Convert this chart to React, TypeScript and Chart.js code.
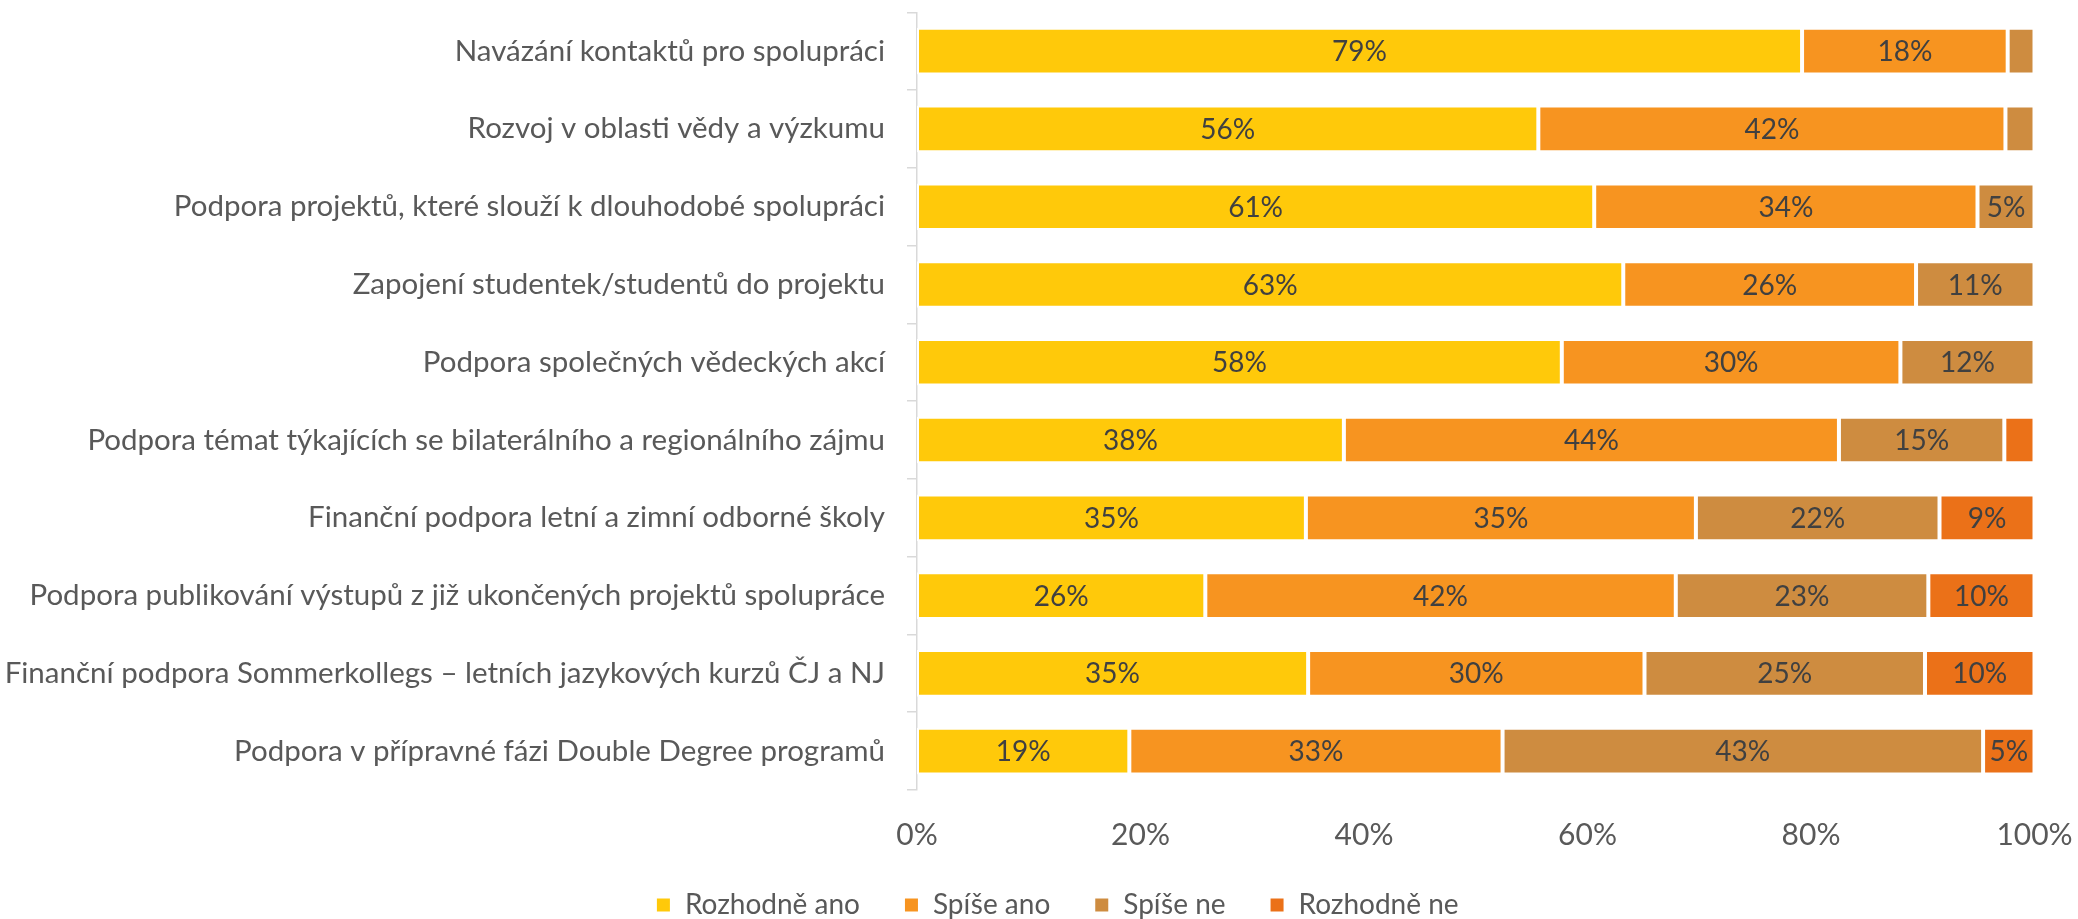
import React, { useEffect, useRef } from "react";
import { Chart, registerables } from "chart.js";

Chart.register(...registerables);

const categories = [
  "Navázání kontaktů pro spolupráci",
  "Rozvoj v oblasti vědy a výzkumu",
  "Podpora projektů, které slouží k dlouhodobé spolupráci",
  "Zapojení studentek/studentů do projektu",
  "Podpora společných vědeckých akcí",
  "Podpora témat týkajících se bilaterálního a regionálního zájmu",
  "Finanční podpora letní a zimní odborné školy",
  "Podpora publikování výstupů z již ukončených projektů spolupráce",
  "Finanční podpora Sommerkollegs – letních jazykových kurzů ČJ a NJ",
  "Podpora v přípravné fázi Double Degree programů",
];

const seriesNames = ["Rozhodně ano", "Spíše ano", "Spíše ne", "Rozhodně ne"];

const rozhodneAno = [79.2, 55.6, 60.6, 63.2, 57.7, 38.2, 34.8, 25.8, 35.0, 19.0];
const spiseAno = [18.4, 41.8, 34.3, 26.2, 30.3, 44.3, 34.9, 42.1, 30.1, 33.4];
const spiseNe = [2.4, 2.6, 5.1, 10.6, 12.0, 14.8, 21.8, 22.6, 25.1, 43.0];
const rozhodneNe = [0, 0, 0, 0, 0, 2.7, 8.5, 9.5, 9.8, 4.6];

const xTicks = [0, 20, 40, 60, 80, 100];

const colors = ["#FFC90A", "#F79420", "#CE8C40", "#EB7118"];

const FONT = "Lato, 'Open Sans', sans-serif";

const segLabels = {
  id: "segLabels",
  afterDatasetsDraw(chart: any) {
    const ctx = chart.ctx;
    ctx.save();
    ctx.font = `28px ${FONT}`;
    ctx.fillStyle = "#404040";
    ctx.textAlign = "center";
    ctx.textBaseline = "middle";
    chart.data.datasets.forEach((ds: any, i: number) => {
      const meta = chart.getDatasetMeta(i);
      meta.data.forEach((el: any, j: number) => {
        const v = ds.data[j];
        if (v < 4) return;
        const p = el.getCenterPoint();
        ctx.fillText(Math.round(v) + "%", p.x, p.y + 1);
      });
    });
    ctx.restore();
  },
};

const shiftLegend = {
  id: "shiftLegend",
  afterLayout(chart: any) {
    const lg = chart.legend;
    if (lg) {
      lg.left += 40;
      lg.right += 40;
    }
  },
};

export default function App() {
  const ref = useRef<HTMLCanvasElement>(null);

  useEffect(() => {
    if (!ref.current) return;
    const seriesData = [rozhodneAno, spiseAno, spiseNe, rozhodneNe];
    const chart = new Chart(ref.current, {
      type: "bar",
      data: {
        labels: categories,
        datasets: seriesNames.map((name, i) => ({
          label: name,
          data: seriesData[i],
          backgroundColor: colors[i],
          borderColor: "#ffffff",
          borderWidth: 2,
          borderSkipped: false,
          barPercentage: 0.6,
          categoryPercentage: 1,
        })),
      },
      options: {
        indexAxis: "y",
        responsive: false,
        animation: false,
        layout: { padding: { left: 0, right: 43.5, top: 12.3, bottom: -10 } },
        font: { family: FONT },
        scales: {
          x: {
            stacked: true,
            min: 0,
            max: 100,
            afterBuildTicks(scale: any) {
              scale.ticks = xTicks.map((v) => ({ value: v }));
            },
            afterFit(scale: any) {
              scale.height = 57;
              scale.paddingLeft = 0;
              scale.paddingRight = 0;
            },
            grid: { display: false, drawTicks: false },
            border: { display: false },
            ticks: {
              padding: 27.5,
              color: "#595959",
              font: { family: FONT, size: 30 },
              callback: (v: any) => v + "%",
            },
          },
          y: {
            stacked: true,
            afterFit(scale: any) {
              scale.width = 917;
              scale.paddingTop = 0;
              scale.paddingBottom = 0;
            },
            grid: {
              display: true,
              drawOnChartArea: false,
              drawTicks: true,
              tickLength: 10,
              color: "#d9d9d9",
              lineWidth: 1.5,
              offset: true,
            },
            border: { display: true, color: "#d9d9d9", width: 1.5 },
            ticks: {
              padding: 22,
              color: "#595959",
              autoSkip: false,
              font: { family: FONT, size: 29.5 },
            },
          },
        },
        plugins: {
          legend: {
            position: "bottom",
            labels: {
              boxWidth: 15,
              boxHeight: 15,
              padding: 44,
              color: "#595959",
              font: { family: FONT, size: 28 },
            },
          },
          tooltip: { enabled: false },
        },
      },
      plugins: [segLabels, shiftLegend],
    } as any);
    return () => chart.destroy();
  }, []);

  return (
    <div style={{ position: "absolute", left: 0, top: 0, width: 2078, height: 919, background: "#fff" }}>
      <canvas ref={ref} width={2078} height={919} style={{ display: "block" }} />
    </div>
  );
}
